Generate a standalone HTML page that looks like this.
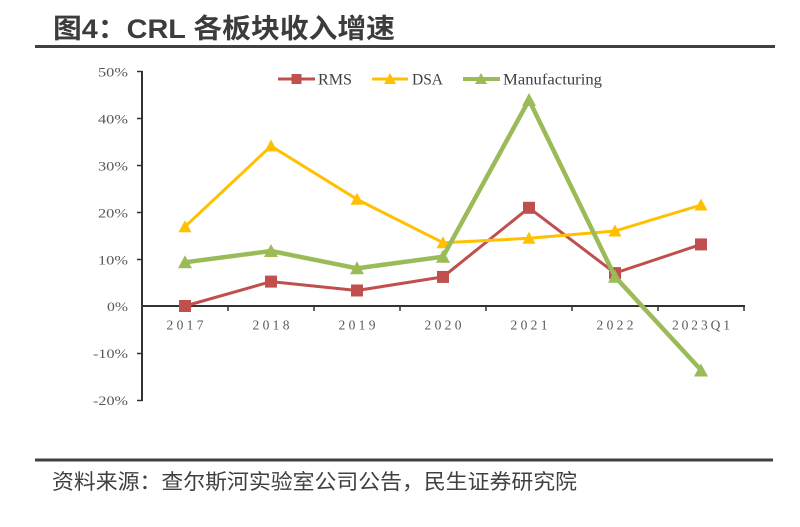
<!DOCTYPE html>
<html>
<head>
<meta charset="utf-8">
<style>
  html,body{margin:0;padding:0;background:#fff;}
  svg{display:block;}
</style>
</head>
<body>
<svg width="800" height="527" viewBox="0 0 800 527" xmlns="http://www.w3.org/2000/svg">
  <rect width="800" height="527" fill="#fff"/>
  <!-- Title -->
  <text x="53" y="38" font-family="'Liberation Sans','Noto Sans CJK SC',sans-serif" font-weight="bold" font-size="27" fill="#3c3c3c" textLength="342" lengthAdjust="spacingAndGlyphs">图4：CRL 各板块收入增速</text>
  <line x1="35" y1="46.5" x2="775" y2="46.5" stroke="#404040" stroke-width="3"/>

  <!-- Y axis -->
  <line x1="142" y1="71" x2="142" y2="401" stroke="#333" stroke-width="2"/>
  <g stroke="#333" stroke-width="1.5">
    <line x1="137" y1="71.5" x2="142" y2="71.5"/>
    <line x1="137" y1="118.5" x2="142" y2="118.5"/>
    <line x1="137" y1="165.5" x2="142" y2="165.5"/>
    <line x1="137" y1="212.5" x2="142" y2="212.5"/>
    <line x1="137" y1="259.5" x2="142" y2="259.5"/>
    <line x1="137" y1="353.5" x2="142" y2="353.5"/>
    <line x1="137" y1="400.5" x2="142" y2="400.5"/>
  </g>
  <g font-family="'Liberation Serif',serif" font-size="13" fill="#595959" text-anchor="end">
    <text x="128" y="76.5" textLength="30" lengthAdjust="spacingAndGlyphs">50%</text>
    <text x="128" y="123.5" textLength="30" lengthAdjust="spacingAndGlyphs">40%</text>
    <text x="128" y="170.5" textLength="30" lengthAdjust="spacingAndGlyphs">30%</text>
    <text x="128" y="217.5" textLength="30" lengthAdjust="spacingAndGlyphs">20%</text>
    <text x="128" y="264.5" textLength="30" lengthAdjust="spacingAndGlyphs">10%</text>
    <text x="128" y="311" textLength="21" lengthAdjust="spacingAndGlyphs">0%</text>
    <text x="128" y="358" textLength="35" lengthAdjust="spacingAndGlyphs">-10%</text>
    <text x="128" y="405" textLength="35" lengthAdjust="spacingAndGlyphs">-20%</text>
  </g>

  <!-- X axis -->
  <line x1="142" y1="306" x2="745" y2="306" stroke="#333" stroke-width="2"/>
  <g stroke="#333" stroke-width="1.5">
    <line x1="228" y1="306" x2="228" y2="311"/>
    <line x1="314" y1="306" x2="314" y2="311"/>
    <line x1="400" y1="306" x2="400" y2="311"/>
    <line x1="486" y1="306" x2="486" y2="311"/>
    <line x1="572" y1="306" x2="572" y2="311"/>
    <line x1="658" y1="306" x2="658" y2="311"/>
    <line x1="744" y1="306" x2="744" y2="311"/>
  </g>
  <g font-family="'Liberation Serif',serif" font-size="13.5" fill="#595959">
    <text x="166.5" y="329.5" textLength="37" lengthAdjust="spacing">2017</text>
    <text x="252.5" y="329.5" textLength="37" lengthAdjust="spacing">2018</text>
    <text x="338.5" y="329.5" textLength="37" lengthAdjust="spacing">2019</text>
    <text x="424.5" y="329.5" textLength="37" lengthAdjust="spacing">2020</text>
    <text x="510.5" y="329.5" textLength="37" lengthAdjust="spacing">2021</text>
    <text x="596.5" y="329.5" textLength="37" lengthAdjust="spacing">2022</text>
    <text x="672" y="329.5" textLength="58" lengthAdjust="spacing">2023Q1</text>
  </g>

  <!-- RMS -->
  <polyline fill="none" stroke="#C0504D" stroke-width="3" stroke-linejoin="round"
    points="185,306 271,281.6 357,290.5 443,276.9 529,207.8 615,273.1 701,244.4"/>
  <g fill="#C0504D">
    <rect x="179" y="300" width="12" height="12"/>
    <rect x="265" y="275.6" width="12" height="12"/>
    <rect x="351" y="284.5" width="12" height="12"/>
    <rect x="437" y="270.9" width="12" height="12"/>
    <rect x="523" y="201.8" width="12" height="12"/>
    <rect x="609" y="267.1" width="12" height="12"/>
    <rect x="695" y="238.4" width="12" height="12"/>
  </g>

  <!-- DSA -->
  <polyline fill="none" stroke="#FFC000" stroke-width="3" stroke-linejoin="round"
    points="185,226.7 271,146 357,199.3 443,242.7 529,238.3 615,231 701,205"/>
  <g fill="#FFC000">
    <polygon points="178.5,232.2 191.5,232.2 185,220.2"/>
    <polygon points="264.5,151.5 277.5,151.5 271,139.5"/>
    <polygon points="350.5,204.8 363.5,204.8 357,192.8"/>
    <polygon points="436.5,248.2 449.5,248.2 443,236.2"/>
    <polygon points="522.5,243.8 535.5,243.8 529,231.8"/>
    <polygon points="608.5,236.5 621.5,236.5 615,224.5"/>
    <polygon points="694.5,210.5 707.5,210.5 701,198.5"/>
  </g>

  <!-- Manufacturing -->
  <polyline fill="none" stroke="#9BBB59" stroke-width="4.5" stroke-linejoin="round"
    points="185,262.3 271,251 357,268.3 443,256.7 529,100 615,276.7 701,370"/>
  <g fill="#9BBB59">
    <polygon points="178,268.3 192,268.3 185,255.3"/>
    <polygon points="264,257 278,257 271,244"/>
    <polygon points="350,274.3 364,274.3 357,261.3"/>
    <polygon points="436,262.7 450,262.7 443,249.7"/>
    <polygon points="522,106 536,106 529,93"/>
    <polygon points="608,282.7 622,282.7 615,269.7"/>
    <polygon points="694,376.5 708,376.5 701,363.5"/>
  </g>

  <!-- Legend -->
  <line x1="278" y1="79" x2="315" y2="79" stroke="#C0504D" stroke-width="3"/>
  <rect x="291.5" y="74" width="10" height="10" fill="#C0504D"/>
  <text x="318" y="84.5" font-family="'Liberation Serif',serif" font-size="16" fill="#404040" textLength="34" lengthAdjust="spacingAndGlyphs">RMS</text>

  <line x1="372" y1="79" x2="408" y2="79" stroke="#FFC000" stroke-width="3"/>
  <polygon points="384,84 396,84 390,73" fill="#FFC000"/>
  <text x="412" y="84.5" font-family="'Liberation Serif',serif" font-size="16" fill="#404040" textLength="31" lengthAdjust="spacingAndGlyphs">DSA</text>

  <line x1="463" y1="79" x2="500" y2="79" stroke="#9BBB59" stroke-width="4"/>
  <polygon points="475,84 487,84 481,73" fill="#9BBB59"/>
  <text x="503" y="84.5" font-family="'Liberation Serif',serif" font-size="16" fill="#404040" textLength="99" lengthAdjust="spacingAndGlyphs">Manufacturing</text>

  <!-- Source -->
  <line x1="35" y1="460" x2="773" y2="460" stroke="#404040" stroke-width="3"/>
  <text x="52" y="489" font-family="'Liberation Sans','Noto Sans CJK SC',sans-serif" font-size="21" fill="#404040" textLength="525" lengthAdjust="spacingAndGlyphs">资料来源：查尔斯河实验室公司公告，民生证券研究院</text>
</svg>
</body>
</html>
